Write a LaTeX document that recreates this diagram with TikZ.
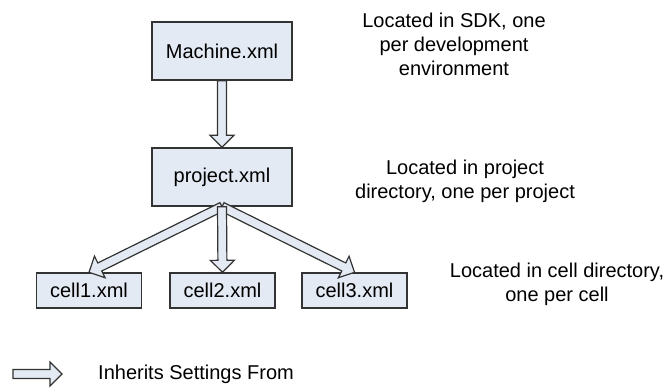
\documentclass[tikz,border=0pt]{standalone}
\usepackage{fontspec}
\setmainfont{Liberation Sans}
\usetikzlibrary{calc}
\definecolor{boxfill}{HTML}{E4EAF4}
\definecolor{boxline}{HTML}{333333}

\tikzset{
  box/.style={draw=boxline, line width=1.4pt, fill=boxfill, minimum width=140pt, minimum height=58pt, inner sep=2pt, text=black, font=\fontsize{20}{24}\selectfont},
  cellbox/.style={box, minimum width=105pt, minimum height=35pt},
  note/.style={align=center, inner sep=2pt, text=black, font=\fontsize{20}{24}\selectfont},
  inh/.style={draw=boxline, line width=1.2pt, fill=boxfill, line join=miter}
}

% hollow block arrow from #1 to #2
\newcommand{\inherit}[2]{%
  \path let \p1=(#1), \p2=(#2),
    \n1={atan2(\y2-\y1,\x2-\x1)},
    \n2={veclen(\x2-\x1,\y2-\y1)} in
    [inh, shift={(\p1)}, rotate=\n1]
    (0pt,-4.5pt) -- ({\n2*1pt-12pt},-4.5pt) -- ({\n2*1pt-12pt},-12pt)
    -- ({\n2*1pt},0pt) -- ({\n2*1pt-12pt},12pt) -- ({\n2*1pt-12pt},4.5pt)
    -- (0pt,4.5pt) -- cycle;}

\begin{document}
\begin{tikzpicture}[x=1pt,y=-1pt]
        \useasboundingbox (0,0) rectangle (668,390);

        % Files
        \node[box] (mach) at (222,51) {Machine.xml};
        \node[box] (proj) at (222,177) {project.xml};
        \node[cellbox] (cell1) at (89,290.5) {cell1.xml};
        \node[cellbox] (cell2) at (222.5,290.5) {cell2.xml};
        \node[cellbox] (cell3) at (354.5,290.5) {cell3.xml};

        % Inheritance arrows
        \inherit{mach.south}{proj.north}
        \inherit{proj.south}{cell1.north}
        \inherit{proj.south}{cell3.north}
        \inherit{proj.south}{cell2.north}

        % Notes
        \node[note] (sdknote) at (454,44) {Located in SDK, one\\per development\\environment};
        \node[note] (projnote) at (465,181) {Located in project\\directory, one per project};
        \node[note] (cellnote) at (557,284) {Located in cell directory,\\one per cell};

        % Legend
        \coordinate (lgA) at (13,374);
        \coordinate (lgB) at (62,374);
        \inherit{lgA}{lgB}
        \node[note, anchor=west] (lgtext) at (96,374) {Inherits Settings From};
\end{tikzpicture}
\end{document}
